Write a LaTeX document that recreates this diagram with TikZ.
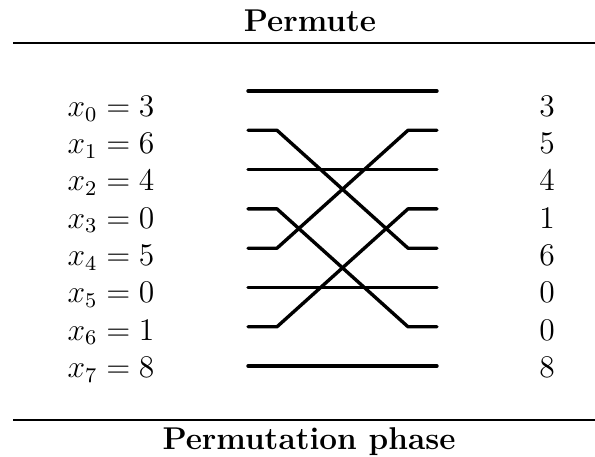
\documentclass[tikz,border=0pt]{standalone}
\usetikzlibrary{calc}
\begin{document}
\begin{tikzpicture}[x=0.4pt,y=-0.4pt,
    wire/.style={line width=1.35pt,line cap=round,line join=round},
    rule/.style={line width=0.9pt},
    lbl/.style={inner sep=0pt,scale=1.05,font=\fontsize{12}{14}\selectfont}]
    \useasboundingbox (0,0) rectangle (595,457);

    \node[lbl,anchor=base] (title) at (310,32) {\bfseries Permute};
    \node[lbl,anchor=base] (caption) at (309,450) {\bfseries Permutation phase};
    \draw[rule] (13,43) -- (595,43);
    \draw[rule] (13,420) -- (595,420);

    \foreach \v [count=\i from 0] in {3,6,4,0,5,0,1,8} {
        \node[lbl,anchor=base west] (in\i) at (67,116.3+37.3*\i) {$x_{\i} = \v$};
        \coordinate (l\i) at (248,91+39.3*\i);
        \coordinate (r\i) at (437,91+39.3*\i);
    }
    \foreach \v [count=\i from 0] in {3,5,4,1,6,0,0,8}
        \node[lbl,anchor=base] (out\i) at (547,116.3+37.3*\i) {$\v$};

    \foreach \i in {0,2,5,7}
        \draw[wire] (l\i) -- (r\i);
    \foreach \a/\b in {1/4,4/1,3/6,6/3}
        \draw[wire] (l\a) -- ++(29,0) -- ($(r\b)+(-29,0)$) -- (r\b);
\end{tikzpicture}
\end{document}
